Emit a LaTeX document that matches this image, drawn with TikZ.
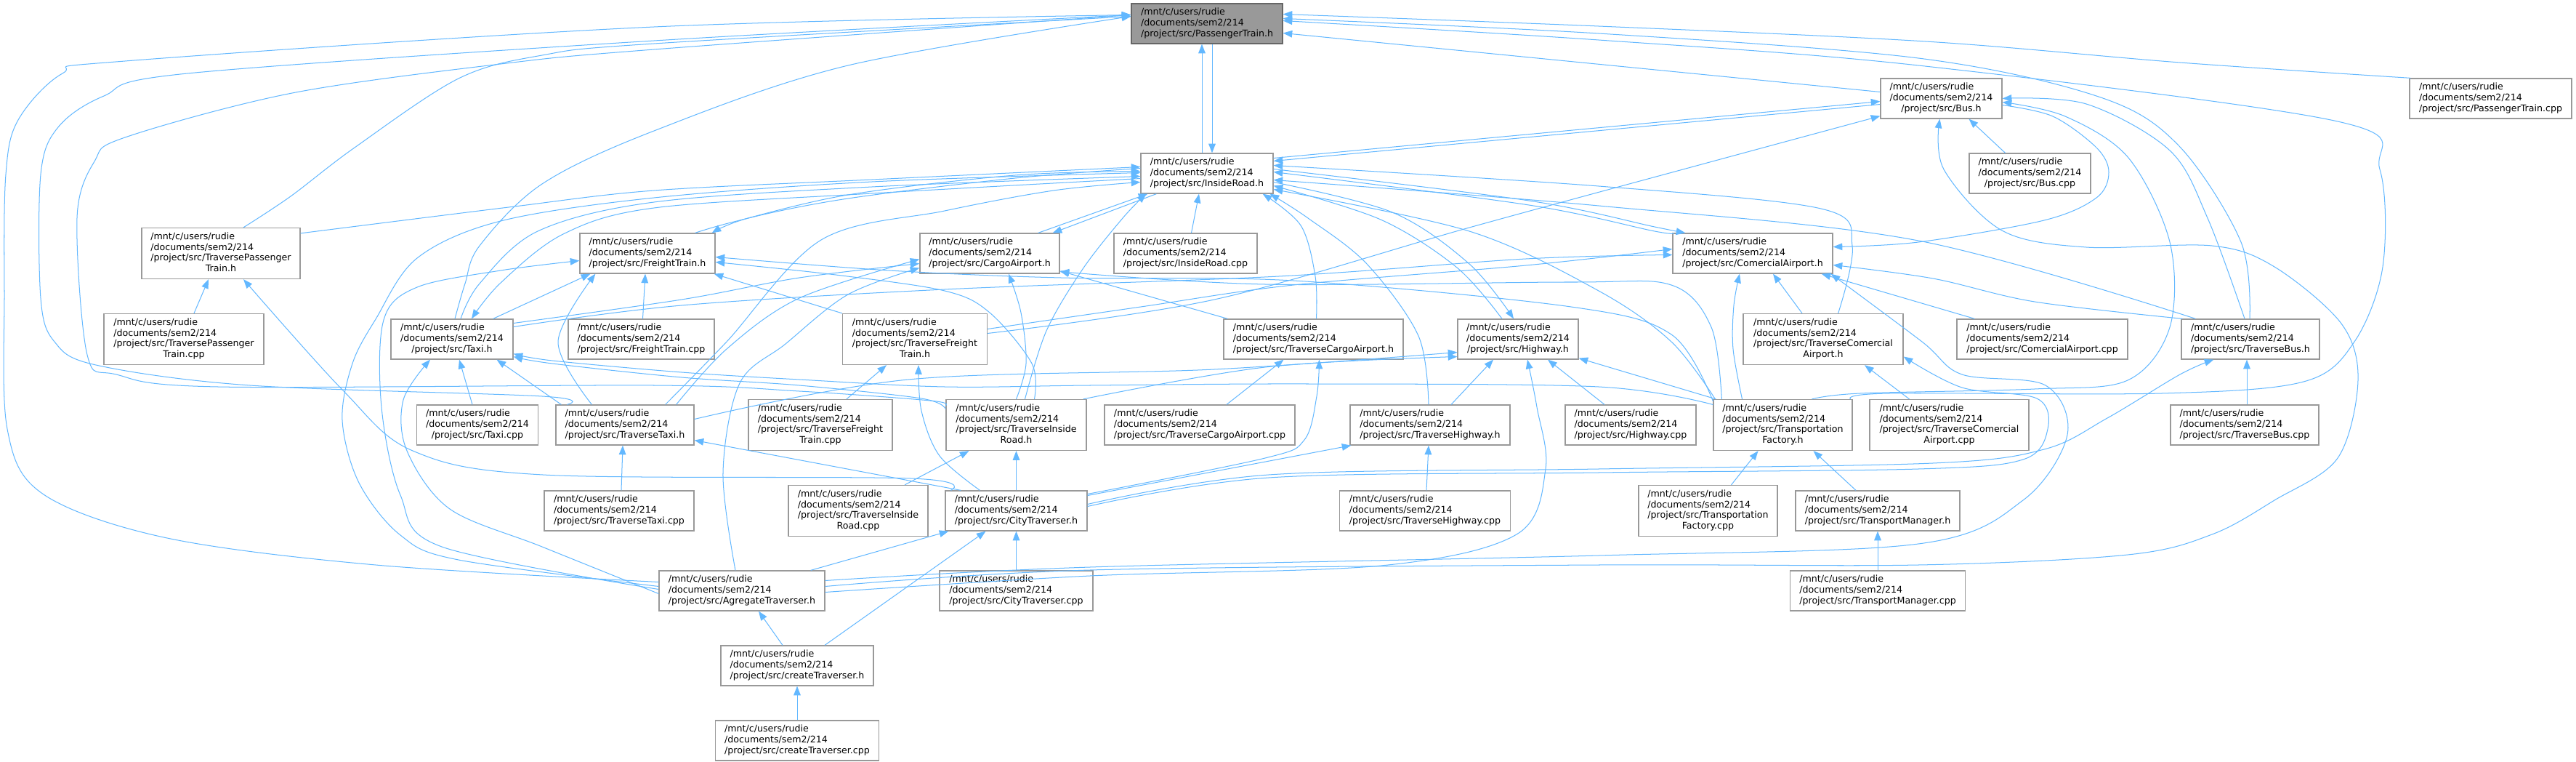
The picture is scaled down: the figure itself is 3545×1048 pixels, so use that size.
\documentclass[tikz,border=0pt]{standalone}
\usepackage{fontspec}
\setmainfont{DejaVu Sans}
\usetikzlibrary{calc,arrows.meta}
\definecolor{edgec}{HTML}{63B8FF}
\definecolor{nodeb}{HTML}{999999}
\definecolor{rootf}{HTML}{999999}
\definecolor{rootb}{HTML}{666666}
\newcommand\nodefont{\fontsize{10}{11.64}\selectfont}
\newcommand\Lthree[1]{\begin{tabular}{@{}l@{}}/mnt/c/users/rudie\\/documents/sem2/214\\\multicolumn{1}{@{}c@{}}{#1}\end{tabular}}
\newcommand\Lfour[2]{\begin{tabular}{@{}l@{}}/mnt/c/users/rudie\\/documents/sem2/214\\#1\\\multicolumn{1}{@{}c@{}}{#2}\end{tabular}}
\begin{document}
\begin{tikzpicture}[x=0.792pt,y=-0.792pt,
  box/.style 2 args={draw=nodeb, fill=white, line width=1pt, inner sep=0pt,
     minimum width=#1*0.792pt, minimum height=#2*0.792pt, font=\nodefont},
  root/.style={fill=rootf, draw=rootb},
  e/.style={draw=edgec, line width=0.8pt, -{Triangle[length=10pt,width=7.6pt]}},
  sm/.style={smooth, tension=0.55}]
\fill[white] (0,0) rectangle (3545,1048);
\useasboundingbox (0,0) rectangle (3545,1048);
% ---------------- nodes ----------------
\node[box={208}{55},root] (PTh) at (1661,32.5) {\Lthree{/project/src/PassengerTrain.h}};
\node[box={167}{55}] (Bush) at (2671.5,135.5) {\Lthree{/project/src/Bus.h}};
\node[box={223}{55}] (PTcpp) at (3427.5,135.5) {\Lthree{/project/src/PassengerTrain.cpp}};
\node[box={182}{55}] (IRh) at (1661,238.5) {\Lthree{/project/src/InsideRoad.h}};
\node[box={167}{55}] (Buscpp) at (2793.5,238.5) {\Lthree{/project/src/Bus.cpp}};
\node[box={218}{70}] (TPTh) at (304,348.5) {\Lfour{/project/src/TraversePassenger}{Train.h}};
\node[box={186}{55}] (FTh) at (891,348.5) {\Lthree{/project/src/FreightTrain.h}};
\node[box={192}{55}] (CAh) at (1362,348.5) {\Lthree{/project/src/CargoAirport.h}};
\node[box={197}{55}] (IRcpp) at (1631.5,348.5) {\Lthree{/project/src/InsideRoad.cpp}};
\node[box={220}{55}] (CoAh) at (2412,348.5) {\Lthree{/project/src/ComercialAirport.h}};
\node[box={220}{70}] (TPTcpp) at (253,466.5) {\Lfour{/project/src/TraversePassenger}{Train.cpp}};
\node[box={168}{55}] (Taxih) at (622,466.5) {\Lthree{/project/src/Taxi.h}};
\node[box={201}{55}] (FTcpp) at (882.5,466.5) {\Lthree{/project/src/FreightTrain.cpp}};
\node[box={199}{70}] (TFTh) at (1259,466.5) {\Lfour{/project/src/TraverseFreight}{Train.h}};
\node[box={247}{55}] (TCAh) at (1807.5,466.5) {\Lthree{/project/src/TraverseCargoAirport.h}};
\node[box={166}{55}] (HWh) at (2089,466.5) {\Lthree{/project/src/Highway.h}};
\node[box={220}{70}] (TCoAh) at (2509,466.5) {\Lfour{/project/src/TraverseComercial}{Airport.h}};
\node[box={235}{55}] (CoAcpp) at (2810.5,466.5) {\Lthree{/project/src/ComercialAirport.cpp}};
\node[box={190}{55}] (TBh) at (3097,466.5) {\Lthree{/project/src/TraverseBus.h}};
\node[box={167}{55}] (Taxicpp) at (657,584.5) {\Lthree{/project/src/Taxi.cpp}};
\node[box={190}{55}] (TTh) at (860,584.5) {\Lthree{/project/src/TraverseTaxi.h}};
\node[box={198}{70}] (TFTcpp) at (1129,584.5) {\Lfour{/project/src/TraverseFreight}{Train.cpp}};
\node[box={193}{70}] (TIRh) at (1398.5,584.5) {\Lfour{/project/src/TraverseInside}{Road.h}};
\node[box={262}{55}] (TCAcpp) at (1651,584.5) {\Lthree{/project/src/TraverseCargoAirport.cpp}};
\node[box={220}{55}] (THWh) at (1968,584.5) {\Lthree{/project/src/TraverseHighway.h}};
\node[box={180}{55}] (HWcpp) at (2244,584.5) {\Lthree{/project/src/Highway.cpp}};
\node[box={191}{70}] (TFh) at (2453.5,584.5) {\Lfour{/project/src/Transportation}{Factory.h}};
\node[box={219}{70}] (TCoAcpp) at (2682.5,584.5) {\Lfour{/project/src/TraverseComercial}{Airport.cpp}};
\node[box={204}{55}] (TBuscpp) at (3089,584.5) {\Lthree{/project/src/TraverseBus.cpp}};
\node[box={206}{55}] (TTcpp) at (852,702.5) {\Lthree{/project/src/TraverseTaxi.cpp}};
\node[box={192}{70}] (TIRcpp) at (1181,702.5) {\Lfour{/project/src/TraverseInside}{Road.cpp}};
\node[box={195}{55}] (CTh) at (1398.5,702.5) {\Lthree{/project/src/CityTraverser.h}};
\node[box={235}{55}] (THWcpp) at (1961,702.5) {\Lthree{/project/src/TraverseHighway.cpp}};
\node[box={191}{70}] (TFcpp) at (2350.5,702.5) {\Lfour{/project/src/Transportation}{Factory.cpp}};
\node[box={226}{55}] (TMh) at (2584,702.5) {\Lthree{/project/src/TransportManager.h}};
\node[box={228}{55}] (ATh) at (1021,812.5) {\Lthree{/project/src/AgregateTraverser.h}};
\node[box={211}{55}] (CTcpp) at (1398.5,812.5) {\Lthree{/project/src/CityTraverser.cpp}};
\node[box={241}{55}] (TMcpp) at (2584,812.5) {\Lthree{/project/src/TransportManager.cpp}};
\node[box={210}{55}] (cTh) at (1097,915.5) {\Lthree{/project/src/createTraverser.h}};
\node[box={225}{55}] (cTcpp) at (1097,1018.5) {\Lthree{/project/src/createTraverser.cpp}};
% ---------------- edges (includer -> included) ----------------
% into PassengerTrain.h
\draw[e] ($(IRh.north)+(-7,0)$) -- ($(PTh.south)+(-7,0)$);
\draw[e] ($(PTh.south)+(7,0)$) -- ($(IRh.north)+(7,0)$);
\draw[e] plot[sm] coordinates {($(PTcpp.north west)+(2,0)$) (3000,86) (2650,57) (2200,36) ($(PTh.east)+(0,-13)$)};
\draw[e] ($(Bush.west)+(0,-9)$) -- ($(PTh.east)+(0,13)$);
\draw[e] plot[sm] coordinates {($(TBh.north)+(-1,0)$) (3084,333) (2998,200) (2888,133) (2640,80) (2200,46) ($(PTh.east)+(0,-7)$)};
\draw[e] plot[sm] coordinates {($(TFh.north east)+(-3,0)$) (2600,541) (2975,541) (3170,525) (3240,470) (3279,367) (3275,233) (3217,167) (2640,90) (2200,55) ($(PTh.east)+(0,-4)$)};
\draw[e] plot[sm] coordinates {($(ATh.west)+(0,-12)$) (517,777) (230,740) (60,680) (10,590) (6,400) (8,240) (25,165) (86,101) (172,84) (900,37) ($(PTh.west)+(0,-12)$)};
\draw[e] plot[sm] coordinates {($(TTh.north west)+(16,0)$) (746,545) (344,530) (132,502) (75,470) (56,410) (56,240) (80,175) (143,132) (258,101) (900,56) ($(PTh.west)+(0,-12)$)};
\draw[e] plot[sm] coordinates {($(TIRh.west)+(0,-27)$) (1280,551) (1100,538) (900,530) (300,532) (160,515) (120,488) (106,300) (130,222) (172,189) (402,128) (689,88) (900,68) ($(PTh.west)+(0,-12)$)};
\draw[e] plot[sm] coordinates {($(TPTh.north)+(31,0)$) (400,270) (488,203) (631,108) (746,76) (900,60) ($(PTh.west)+(0,-10)$)};
\draw[e] plot[sm] coordinates {($(Taxih.north)+(4,0)$) (640,390) (660,338) (746,253) (900,180) (1167,90) ($(PTh.west)+(0,-10)$)};
% InsideRoad.h relations
\draw[e] ($(IRh.east)+(0,-21)$) -- ($(Bush.west)+(0,4)$);
\draw[e] ($(Bush.west)+(0,8)$) -- ($(IRh.east)+(0,-17)$);
\draw[e] plot[sm] coordinates {($(IRh.west)+(0,-7)$) (1397,245) (1167,273) (1030,300) ($(FTh.north east)+(-5,0)$)};
\draw[e] plot[sm] coordinates {($(FTh.north east)+(-28,0)$) (1010,305) (1167,268) (1397,241) ($(IRh.west)+(0,-3)$)};
\draw[e] ($(IRh.south west)+(22,0)$) -- ($(CAh.north east)+(-10,0)$);
\draw[e] ($(CAh.north east)+(-30,0)$) -- ($(IRh.south west)+(10,0)$);
\draw[e] plot[sm] coordinates {($(IRh.east)+(0,-6)$) (2104,276) (2277,312) ($(CoAh.north west)+(18,0)$)};
\draw[e] plot[sm] coordinates {($(CoAh.north west)+(2,0)$) (2277,318) (2104,282) ($(IRh.east)+(0,-2)$)};
\draw[e] plot[sm] coordinates {($(IRh.east)+(0,12)$) (1916,292) (2022,363) ($(HWh.north)+(-6,0)$)};
\draw[e] plot[sm] coordinates {($(HWh.north)+(-22,0)$) (2005,368) (1900,302) ($(IRh.east)+(0,17)$)};
\draw[e] plot[sm] coordinates {($(IRh.west)+(0,7)$) (1200,266) (900,286) (775,322) (689,389) ($(Taxih.north)+(27,0)$)};
\draw[e] plot[sm] coordinates {($(Taxih.north)+(12,0)$) (660,390) (740,318) (900,278) (1200,257) ($(IRh.west)+(0,4)$)};
\draw[e] ($(IRcpp.north)+(8,0)$) -- ($(IRh.south)+(-11,0)$);
\draw[e] plot[sm] coordinates {($(TIRh.north)+(12,0)$) (1440,455) (1490,370) (1545,300) ($(IRh.south west)+(8,0)$)};
\draw[e] plot[sm] coordinates {($(TCAh.north)+(4,0)$) (1810,380) (1790,310) ($(IRh.south east)+(-15,0)$)};
\draw[e] plot[sm] coordinates {($(THWh.north)+(-2,0)$) (1952,462) (1881,363) (1800,300) ($(IRh.south east)+(-5,0)$)};
\draw[e] plot[sm] coordinates {($(TPTh.north east)+(0,8)$) (700,285) (900,262) (1200,247) ($(IRh.west)+(0,-9)$)};
\draw[e] plot[sm] coordinates {($(ATh.west)+(0,-6)$) (631,770) (551,736) (494,664) (471,578) (485,500) (517,439) (574,355) (689,304) (900,272) (1200,250) ($(IRh.west)+(0,-1)$)};
\draw[e] plot[sm] coordinates {($(TCoAh.north east)+(-90,0)$) (2549,338) (2506,287) (2200,256) ($(IRh.east)+(0,-11)$)};
\draw[e] plot[sm] coordinates {($(TBh.north west)+(20,0)$) (2640,331) (2200,283) ($(IRh.east)+(0,9)$)};
\draw[e] plot[sm] coordinates {($(TFh.north west)+(3,0)$) (2300,470) (2200,400) (2022,318) ($(IRh.east)+(0,22)$)};
\draw[e] plot[sm] coordinates {($(TTh.north east)+(-40,0)$) (1000,470) (1130,330) (1300,290) (1450,262) ($(IRh.west)+(0,12)$)};
% AgregateTraverser.h
\draw[e] plot[sm] coordinates {($(ATh.west)+(0,-2)$) (608,752) (551,681) (525,560) (528,440) (574,395) (689,372) ($(FTh.west)+(0,10)$)};
\draw[e] plot[sm] coordinates {($(ATh.west)+(0,4)$) (746,752) (619,700) (560,620) (555,550) ($(Taxih.south)+(-30,0)$)};
\draw[e] plot[sm] coordinates {($(ATh.north)+(-9,0)$) (995,650) (1018,527) (1081,473) (1167,405) ($(CAh.west)+(0,20)$)};
\draw[e] plot[sm] coordinates {($(ATh.east)+(0,-14)$) (1500,780) (2200,764) (2640,748) (2784,688) (2845,598) (2815,530) (2700,515) (2645,470) ($(CoAh.south east)+(-3,0)$)};
\draw[e] plot[sm] coordinates {($(ATh.east)+(0,-6)$) (1500,784) (2200,777) (2640,777) (2928,763) (3044,735) (3130,688) (3217,630) (3245,523) (3222,445) (3130,367) (3044,338) (2871,340) (2755,317) (2675,233) ($(Bush.south)+(-2,0)$)};
\draw[e] plot[sm] coordinates {($(ATh.east)+(0,2)$) (1500,792) (1900,778) (2087,735) (2127,645) (2115,560) ($(HWh.south)+(13,0)$)};
\draw[e] ($(ATh.north east)+(-20,0)$) -- ($(CTh.south west)+(5,0)$);
\draw[e] ($(cTh.north)+(-20,0)$) -- ($(ATh.south)+(23,0)$);
\draw[e] ($(cTh.north)+(38,0)$) -- ($(CTh.south)+(-42,0)$);
\draw[e] (cTcpp.north) -- (cTh.south);
% CityTraverser.h
\draw[e] (CTh.north) -- (TIRh.south);
\draw[e] ($(CTh.north west)+(22,0)$) -- ($(TTh.east)+(0,21)$);
\draw[e] plot[sm] coordinates {($(CTh.north west)+(8,0)$) (1253,658) (747,653) (568,620) (472,537) ($(TPTh.south)+(31,0)$)};
\draw[e] plot[sm] coordinates {($(CTh.north)+(-50,0)$) (1293,627) (1268,565) ($(TFTh.south)+(5,0)$)};
\draw[e] plot[sm] coordinates {($(CTh.east)+(0,-23)$) (1741,630) (1795,605) (1812,545) ($(TCAh.south)+(8,0)$)};
\draw[e] ($(CTh.east)+(0,-21)$) -- ($(THWh.south west)+(2,0)$);
\draw[e] plot[sm] coordinates {($(CTh.east)+(0,-9)$) (1746,653) (2200,645) (2660,637) (2813,618) (2900,575) (3000,515) ($(TBh.south west)+(45,0)$)};
\draw[e] plot[sm] coordinates {($(CTh.east)+(0,-6)$) (1746,657) (2200,650) (2640,645) (2784,632) (2818,590) (2803,548) (2700,533) ($(TCoAh.east)+(0,24)$)};
\draw[e] (CTcpp.north) -- (CTh.south);
% Taxi / TraverseTaxi / Freight
\draw[e] ($(TTh.north west)+(8,0)$) -- ($(Taxih.south east)+(-23,0)$);
\draw[e] plot[sm] coordinates {($(TTh.north west)+(50,0)$) (768,470) ($(FTh.south west)+(22,0)$)};
\draw[e] ($(Taxih.north east)+(-28,0)$) -- ($(FTh.south west)+(15,0)$);
\draw[e] plot[sm] coordinates {($(TTh.north east)+(-25,0)$) (1000,480) (1100,410) ($(CAh.west)+(0,8)$)};
\draw[e] plot[sm] coordinates {($(TTh.east)+(0,-8)$) (1250,522) (1671,508) ($(HWh.west)+(0,18)$)};
\draw[e] plot[sm] coordinates {($(TFTh.east)+(0,-8)$) (1671,412) (2022,313) (2327,230) ($(Bush.south west)+(0,-4)$)};
\draw[e] plot[sm] coordinates {($(TFTh.east)+(0,-14)$) (1570,422) (1780,392) (2100,365) ($(CoAh.west)+(0,-6)$)};
\draw[e] ($(TFTh.north west)+(0,0)$) -- ($(FTh.south east)+(-2,0)$);
\draw[e] plot[sm] coordinates {($(Taxih.east)+(0,-22)$) (938,412) (1100,382) ($(CAh.west)+(0,14)$)};
\draw[e] plot[sm] coordinates {($(Taxih.east)+(0,-17)$) (938,420) (1300,398) (1760,380) (2100,356) ($(CoAh.west)+(0,2)$)};
% TraverseInsideRoad.h
\draw[e] plot[sm] coordinates {($(TIRh.west)+(0,-22)$) (1268,548) (1100,530) (938,519) (760,500) ($(Taxih.east)+(0,24)$)};
\draw[e] plot[sm] coordinates {($(TIRh.north)+(25,0)$) (1420,500) (1362,430) (1300,400) (1150,378) ($(FTh.east)+(0,12)$)};
\draw[e] plot[sm] coordinates {($(TIRh.north east)+(-5,0)$) (1741,505) ($(HWh.west)+(0,24)$)};
\draw[e] plot[sm] coordinates {(TIRh.north) (1412,500) (1405,430) ($(CAh.south)+(26,0)$)};
\draw[e] ($(TCAh.north west)+(6,0)$) -- ($(CAh.south east)+(0,-4)$);
% TransportationFactory.h
\draw[e] plot[sm] coordinates {($(TFh.west)+(0,-28)$) (2200,532) (1800,528) (1500,530) (1300,532) (1100,522) (938,512) (760,496) ($(Taxih.east)+(0,20)$)};
\draw[e] plot[sm] coordinates {($(TFh.north west)+(0,3)$) (2300,460) (2162,422) (1780,386) (1460,382) (1224,372) ($(FTh.east)+(0,5)$)};
\draw[e] plot[sm] coordinates {($(TFh.north west)+(12,0)$) (2355,450) (2300,392) (2162,388) (1741,391) ($(CAh.south east)+(0,-3)$)};
\draw[e] plot[sm] coordinates {($(TFh.north)+(-56,0)$) (2385,480) (2386,420) ($(CoAh.south)+(-18,0)$)};
\draw[e] ($(TFh.north west)+(4,0)$) -- ($(HWh.south east)+(0,-2)$);
\draw[e] plot[sm] coordinates {($(TFh.north)+(40,0)$) (2560,541) (2800,535) (2928,523) (2986,450) (2986,333) (2929,217) (2842,160) ($(Bush.east)+(0,5)$)};
\draw[e] ($(TMh.north)+(-30,0)$) -- ($(TFh.south)+(42,0)$);
\draw[e] (TMcpp.north) -- (TMh.south);
\draw[e] ($(TFcpp.north)+(32,0)$) -- ($(TFh.south)+(-34,0)$);
% Bus / ComercialAirport / TraverseBus
\draw[e] plot[sm] coordinates {($(TBh.north)+(-8,0)$) (3038,300) (2986,207) (2871,143) (Bush.east)};
\draw[e] plot[sm] coordinates {($(TBh.north west)+(2,0)$) (2800,415) (2660,383) ($(CoAh.east)+(0,16)$)};
\draw[e] plot[sm] coordinates {($(Bush.east)+(0,9)$) (2825,160) (2885,203) (2902,237) (2885,272) (2813,303) (2640,333) ($(CoAh.east)+(0,-9)$)};
\draw[e] ($(TCoAh.north)+(-29,0)$) -- ($(CoAh.south)+(28,0)$);
\draw[e] ($(TCoAcpp.north)+(-55,0)$) -- ($(TCoAh.south)+(57,0)$);
\draw[e] ($(CoAcpp.north west)+(25,0)$) -- ($(CoAh.south east)+(-16,0)$);
\draw[e] ($(TBuscpp.north)+(3,0)$) -- ($(TBh.south)+(-5,0)$);
\draw[e] ($(Buscpp.north)+(-34,0)$) -- ($(Bush.south)+(38,0)$);
% Highway
\draw[e] ($(THWh.north)+(29,0)$) -- ($(HWh.south)+(-34,0)$);
\draw[e] ($(HWcpp.north)+(-36,0)$) -- ($(HWh.south)+(41,0)$);
\draw[e] ($(THWcpp.north)+(2,0)$) -- ($(THWh.south)+(-2,0)$);
% remaining cpp -> h
\draw[e] ($(TCAcpp.north)+(37,0)$) -- ($(TCAh.south)+(-41,0)$);
\draw[e] ($(TIRcpp.north)+(64,0)$) -- ($(TIRh.south)+(-65,0)$);
\draw[e] ($(TTcpp.north)+(3,0)$) -- ($(TTh.south)+(-3,0)$);
\draw[e] ($(Taxicpp.north)+(-7,0)$) -- ($(Taxih.south)+(10,0)$);
\draw[e] ($(TFTcpp.north)+(36,0)$) -- ($(TFTh.south)+(-39,0)$);
\draw[e] ($(FTcpp.north)+(2,0)$) -- ($(FTh.south)+(-3,0)$);
\draw[e] ($(TPTcpp.north)+(14,0)$) -- ($(TPTh.south)+(-17,0)$);
\end{tikzpicture}
\end{document}
